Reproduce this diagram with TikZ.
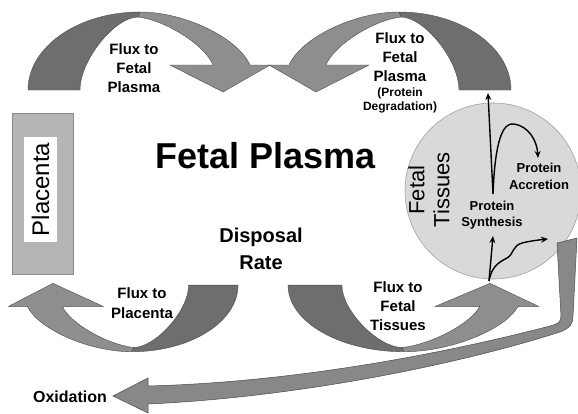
\documentclass[tikz,border=0pt]{standalone}
\usepackage{fontspec}
\setmainfont{Liberation Sans}
\usetikzlibrary{arrows.meta}
\definecolor{darkarr}{HTML}{6E6E6E}
\definecolor{lightarr}{HTML}{8E8E8E}
\definecolor{edgegray}{HTML}{4A4A4A}
\definecolor{boxgray}{HTML}{B5B5B5}
\definecolor{boxedge}{HTML}{8A8A8A}
\definecolor{circgray}{HTML}{D9D9D9}
\definecolor{circedge}{HTML}{A0A0A0}
\definecolor{bandgray}{HTML}{888888}
\newcommand\cvarrowshape{%
  \filldraw[darkpart] (28,90) .. controls (28,47) and (78,12) .. (140,12)
     -- (138,17) .. controls (115,17) and (80,60) .. (80,90) -- cycle;
  \filldraw[lightpart] (140,12) .. controls (185,12) and (238,38) .. (250,65)
     -- (270,65) -- (223,92) -- (170,65) -- (213,65)
     .. controls (205,45) and (165,20) .. (138,17) -- cycle;
}
\begin{document}
\begin{tikzpicture}[x=1pt,y=-1pt,
  lbl/.style={font=\bfseries\fontsize{15}{19}\selectfont, align=center, inner sep=0pt},
  darkpart/.style={fill=darkarr, draw=edgegray, line width=0.4pt},
  lightpart/.style={fill=lightarr, draw=edgegray, line width=0.4pt},
  flow/.style={line width=1.4pt, -{Stealth[length=7pt,width=6pt]}},
]
\useasboundingbox (0,0) rectangle (578,413);
\fill[white] (0,0) rectangle (578,413);

% curved flux arrows
\begin{scope}\cvarrowshape\end{scope}
\begin{scope}[shift={(539,0)}, xscale=-1]\cvarrowshape\end{scope}
\begin{scope}[shift={(264.6,362)}, xscale=-0.949, yscale=-0.855]\cvarrowshape\end{scope}
\begin{scope}[shift={(259,362)}, xscale=1.036, yscale=-0.855]\cvarrowshape\end{scope}

% placenta
\node[draw=boxedge, fill=boxgray, minimum width=61pt, minimum height=161pt, inner sep=0pt, line width=0.6pt] (plac) at (42.5,193.5) {};
\node[fill=white, minimum width=33pt, minimum height=105pt, inner sep=0pt] (placin) at (40.5,189.5) {};
\node[rotate=90, font=\fontsize{24}{28}\selectfont, inner sep=0pt] (plact) at (40.5,189.5) {Placenta};

% fetal tissues circle
\node[circle, draw=circedge, fill=circgray, minimum size=176pt, inner sep=0pt, line width=0.6pt] (tis) at (493,191) {};
\node[rotate=90, align=center, font=\fontsize{22}{25}\selectfont, inner sep=0pt] (tist) at (429,190) {Fetal\\Tissues};

% texts
\node[font=\bfseries\fontsize{36}{40}\selectfont, inner sep=0pt] (fp) at (266,156) {Fetal Plasma};
\node[font=\bfseries\fontsize{20}{27}\selectfont, align=center, inner sep=0pt] (disp) at (261,249) {Disposal\\Rate};
\node[lbl] (f1) at (134,68) {Flux to\\Fetal\\Plasma};
\node[lbl] (f2) at (400,57) {Flux to\\Fetal\\Plasma};
\node[font=\bfseries\fontsize{12}{14}\selectfont, align=center, inner sep=0pt] (f2b) at (400,100) {(Protein\\Degradation)};
\node[font=\bfseries\fontsize{15}{20}\selectfont, align=center, inner sep=0pt] (f3) at (142,303) {Flux to\\Placenta};
\node[lbl] (f4) at (398,306) {Flux to\\Fetal\\Tissues};
\node[font=\bfseries\fontsize{13}{17}\selectfont, align=center, inner sep=0pt] (acc) at (539,176) {Protein\\Accretion};
\node[font=\bfseries\fontsize{13}{16}\selectfont, align=center, inner sep=0pt] (syn) at (492,215) {Protein\\Synthesis};
\node[font=\bfseries\fontsize{16}{19}\selectfont, inner sep=0pt] (ox) at (70,397) {Oxidation};

% oxidation band
\filldraw[fill=bandgray, draw=edgegray, line width=0.5pt]
  (557,243) -- (561,316) .. controls (561,322) and (558,324) .. (550,326)
  .. controls (450,352) and (300,382) .. (148,386) -- (148,378) -- (113,396)
  -- (148,413) -- (148,404) .. controls (300,397) and (460,364) .. (560,332)
  .. controls (570,328) and (573,324) .. (573,316) -- (577,238) -- cycle;

% arrows inside tissues
\coordinate (synt) at (493,194);
\coordinate (degtop) at (488,93);
\coordinate (acct) at (538,158);
\coordinate (base) at (489,281);
\coordinate (synb) at (493,236);
\coordinate (wave) at (548,239);
\draw[flow] (synt) -- (degtop);
\draw[flow] (synt) .. controls (495,140) and (503,122) .. (514,124)
  .. controls (528,126) and (537,140) .. (acct);
\draw[flow] (base) -- (synb);
\draw[flow] (base) .. controls (492,265) and (500,262) .. (507,258)
  .. controls (514,254) and (512,246) .. (522,243)
  .. controls (530,241) and (538,240) .. (wave);
\end{tikzpicture}
\end{document}
